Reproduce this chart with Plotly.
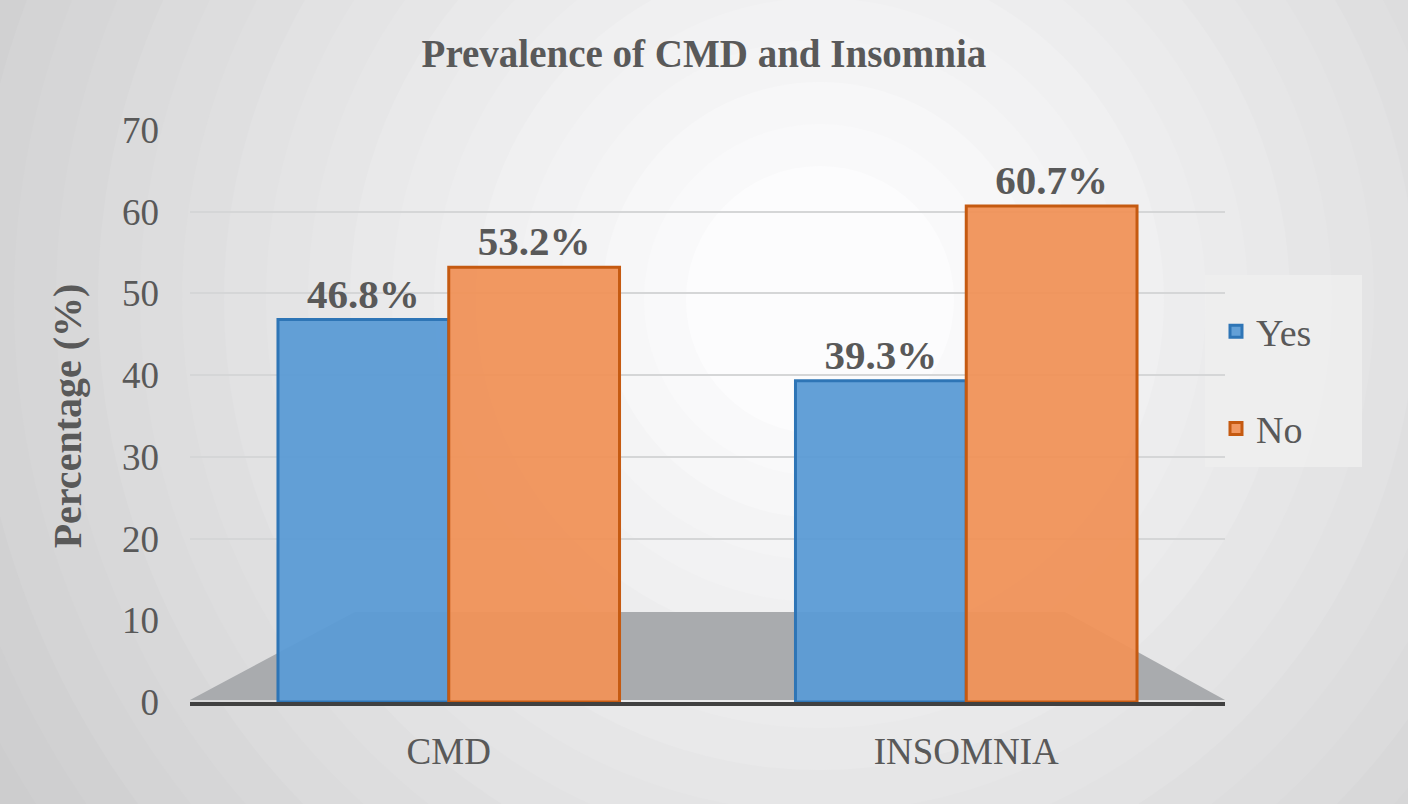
import plotly.graph_objects as go

categories = ["CMD", "INSOMNIA"]
yes_values = [46.8, 39.3]
no_values = [53.2, 60.7]
y_ticks = [0, 10, 20, 30, 40, 50, 60, 70]
grid_ticks = [20, 30, 40, 50, 60, 70]

W, H = 1408, 804
L, R, T, B = 190, 183, 130, 102
PW, PH = W - L - R, H - T - B

def px(x):
    return (x - L) / PW

def py(y):
    return (H - B - y) / PH

FONT = "Liberation Serif"
GRAY = "#595959"

fig = go.Figure()
fig.add_trace(go.Bar(
    name="Yes", x=categories, y=yes_values,
    marker=dict(color="rgba(91,155,213,0.95)", line=dict(color="#2E75B6", width=3)),
    texttemplate="%{y:.1f}%", textposition="outside", cliponaxis=False,
    textfont=dict(family=FONT, size=41, color=GRAY, weight="bold"),
    legendgroup="a",
))
fig.add_trace(go.Bar(
    name="No", x=categories, y=no_values,
    marker=dict(color="rgba(240,146,88,0.95)", line=dict(color="#C55A11", width=3)),
    texttemplate="%{y:.1f}%", textposition="outside", cliponaxis=False,
    textfont=dict(family=FONT, size=41, color=GRAY, weight="bold"),
    legendgroup="b",
))
# invisible trace on overlay axis to show back-wall gridlines only
fig.add_trace(go.Scatter(x=categories, y=[None, None], yaxis="y2", showlegend=False,
                         hoverinfo="skip", mode="lines"))

shapes = []
# radial background
cx, cy = 820, 300
n = 24
for i in range(n):
    r = 1100 - i * 42
    t = i / (n - 1)
    c = int(198 + (252 - 198) * t)
    shapes.append(dict(type="circle", xref="paper", yref="paper", layer="below",
                       x0=px(cx - r), x1=px(cx + r), y0=py(cy + r), y1=py(cy - r),
                       fillcolor=f"rgb({c},{c},{c+1})", line=dict(width=0)))
# floor
shapes.append(dict(type="path", xref="paper", yref="paper", layer="between",
                   path=f"M {px(190)},{py(700)} L {px(1225)},{py(700)} L {px(1065)},{py(612)} L {px(355)},{py(612)} Z",
                   fillcolor="#a9abae", line=dict(width=0)))
# legend box
shapes.append(dict(type="rect", xref="paper", yref="paper", layer="below",
                   x0=px(1205), x1=px(1362), y0=py(467), y1=py(275),
                   fillcolor="rgba(238,238,238,0.85)", line=dict(width=0)))

fig.update_layout(
    width=W, height=H,
    margin=dict(l=L, r=R, t=T, b=B),
    paper_bgcolor="#c6c7c9",
    plot_bgcolor="rgba(0,0,0,0)",
    barmode="group", bargap=0.34, bargroupgap=0,
    shapes=shapes,
    title=dict(text="Prevalence of CMD and Insomnia", x=0.5, xref="container", xanchor="center",
               y=1 - 53 / H, yref="container", yanchor="middle",
               font=dict(family=FONT, size=39, color=GRAY, weight="bold")),
    font=dict(family=FONT, color=GRAY),
    legend=dict(x=px(1216), y=py(300), xanchor="left", yanchor="top",
                bgcolor="rgba(0,0,0,0)", font=dict(family=FONT, size=38, color=GRAY),
                tracegroupgap=45, traceorder="grouped"),
    xaxis=dict(showline=True, linecolor="#404040", linewidth=4, ticks="",
               ticklabelstandoff=14,
               tickfont=dict(family=FONT, size=37, color=GRAY), showgrid=False),
    yaxis=dict(range=[0, 70], tickvals=y_ticks, showgrid=False,
               zeroline=False, ticks="", ticklabelstandoff=30,
               tickfont=dict(family=FONT, size=37, color=GRAY),
               title=dict(text="Percentage (%)", standoff=28,
                          font=dict(family=FONT, size=40, color=GRAY, weight="bold"))),
    yaxis2=dict(range=[0, 70], overlaying="y", tickvals=grid_ticks, showticklabels=False,
                showgrid=True, gridcolor="#d5d6d7", gridwidth=2, zeroline=False, ticks=""),
)

fig.write_html("out.html", config={"displayModeBar": False},
               post_script="document.body.style.margin='0';")
